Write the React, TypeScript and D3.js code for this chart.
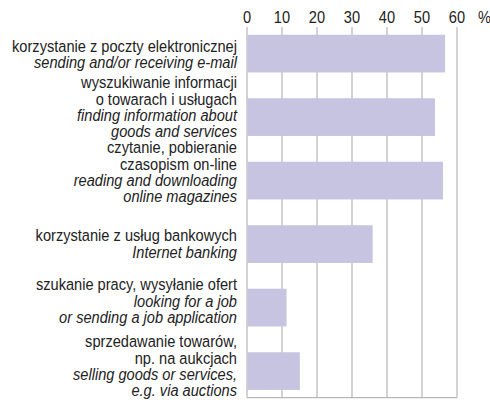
import React from "react";
import * as d3 from "d3";

const categoriesPl: string[][] = [
  ["korzystanie z poczty elektronicznej"],
  ["wyszukiwanie informacji", "o towarach i usługach"],
  ["czytanie, pobieranie", "czasopism on-line"],
  ["korzystanie z usług bankowych"],
  ["szukanie pracy, wysyłanie ofert"],
  ["sprzedawanie towarów,", "np. na aukcjach"],
];
const categoriesEn: string[][] = [
  ["sending and/or receiving e-mail"],
  ["finding information about", "goods and services"],
  ["reading and downloading", "online magazines"],
  ["Internet banking"],
  ["looking for a job", "or sending a job application"],
  ["selling goods or services,", "e.g. via auctions"],
];
const values: number[] = [56.6, 53.7, 56.0, 35.9, 11.3, 15.1];
const ticks: number[] = [0, 10, 20, 30, 40, 50, 60];

// layout: vertical shift of label block relative to bar centre
const labelShift = [1.55, -8.65, -7.15, 1.05, -5.3, -3.65];

const W = 490;
const H = 409;
const FONT = "'Liberation Sans', Arial, sans-serif";
const SX = 0.86;
const FS = 17;

export default function App() {
  const x = d3.scaleLinear().domain([0, 60]).range([247, 457]);
  const ids = values.map((_, i) => String(i));
  const y = d3
    .scaleBand<string>()
    .domain(ids)
    .range([27, 397.7])
    .paddingInner(0.406)
    .paddingOuter(0.122);
  const lh = 16.3;
  return (
    <svg
      width={W}
      height={H}
      style={{ position: "absolute", left: 0, top: 0, background: "#fff" }}
      fontFamily={FONT}
    >
      {ticks.map((t) => (
        <g key={t}>
          <line
            x1={x(t)}
            x2={x(t)}
            y1={27}
            y2={397.7}
            stroke="#a6a6a6"
            strokeWidth={1}
          />
          <text
            transform={`translate(${x(t)},23) scale(${SX},1)`}
            textAnchor="middle"
            fontSize={FS}
            fill="#222"
          >
            {t}
          </text>
        </g>
      ))}
      <text transform={`translate(478,23) scale(${SX},1)`} fontSize={FS} fill="#222">
        %
      </text>
      <line x1={x(0)} x2={x(60)} y1={397.7} y2={397.7} stroke="#a6a6a6" strokeWidth={1} />
      {values.map((v, i) => (
        <rect
          key={i}
          x={x(0) + 0.5}
          y={y(ids[i])!}
          width={x(v) - x(0) - 0.5}
          height={y.bandwidth()}
          fill="#c7c4e2"
        />
      ))}
      {values.map((_, i) => {
        const lines = [
          ...categoriesPl[i].map((s) => ({ s, it: false })),
          ...categoriesEn[i].map((s) => ({ s, it: true })),
        ];
        const n = lines.length;
        const c = y(ids[i])! + y.bandwidth() / 2 + labelShift[i];
        const first = c - ((n - 1) * lh) / 2 + 4.5;
        return (
          <g key={i} transform={`translate(237,0) scale(${SX},1)`}>
            <text textAnchor="end" fontSize={FS} fill="#222">
              {lines.map((l, j) => (
                <tspan
                  key={j}
                  x={0}
                  y={first + j * lh}
                  fontStyle={l.it ? "italic" : "normal"}
                >
                  {l.s}
                </tspan>
              ))}
            </text>
          </g>
        );
      })}
    </svg>
  );
}
